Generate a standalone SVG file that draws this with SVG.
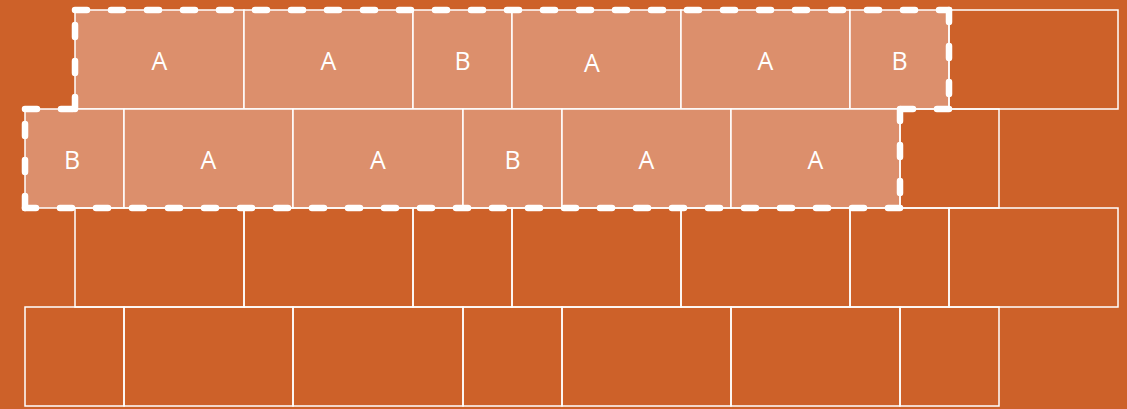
<svg xmlns="http://www.w3.org/2000/svg" width="1127" height="409" viewBox="0 0 1127 409">
<style>
.b{fill:none;stroke:#fff;stroke-width:1.5}
.h{fill:#DC8F6C;stroke:#fff;stroke-width:1.5}
.t{fill:#fff;font-family:"Open Sans","Noto Sans",sans-serif;font-size:25px;text-anchor:middle}
.d{fill:none;stroke:#fff;stroke-width:6.5;stroke-dasharray:12 24;stroke-linecap:round}
</style>
<rect width="1127" height="409" fill="#CD6129"/>
<g id="row1">
<rect class="h" x="75" y="10" width="169" height="99"/>
<rect class="h" x="244" y="10" width="169" height="99"/>
<rect class="h" x="413" y="10" width="99" height="99"/>
<rect class="h" x="512" y="10" width="169" height="99"/>
<rect class="h" x="681" y="10" width="169" height="99"/>
<rect class="h" x="850" y="10" width="99" height="99"/>
<rect class="b" x="949" y="10" width="169" height="99"/>
<text class="t" x="159.5" y="70">A</text>
<text class="t" x="328.5" y="70">A</text>
<text class="t" x="462.5" y="70">B</text>
<text class="t" x="592" y="71.5">A</text>
<text class="t" x="765.5" y="70">A</text>
<text class="t" x="899.5" y="70">B</text>
</g>
<g id="row2">
<rect class="h" x="25" y="109" width="99" height="99"/>
<rect class="h" x="124" y="109" width="169" height="99"/>
<rect class="h" x="293" y="109" width="170" height="99"/>
<rect class="h" x="463" y="109" width="99" height="99"/>
<rect class="h" x="562" y="109" width="169" height="99"/>
<rect class="h" x="731" y="109" width="169" height="99"/>
<rect class="b" x="900" y="109" width="99" height="99"/>
<text class="t" x="72" y="168.5">B</text>
<text class="t" x="208.5" y="168.5">A</text>
<text class="t" x="378" y="168.5">A</text>
<text class="t" x="512.5" y="168.5">B</text>
<text class="t" x="646.5" y="168.5">A</text>
<text class="t" x="815.5" y="168.5">A</text>
</g>
<g id="row3">
<rect class="b" x="75" y="208" width="169" height="99"/>
<rect class="b" x="244" y="208" width="169" height="99"/>
<rect class="b" x="413" y="208" width="99" height="99"/>
<rect class="b" x="512" y="208" width="169" height="99"/>
<rect class="b" x="681" y="208" width="169" height="99"/>
<rect class="b" x="850" y="208" width="99" height="99"/>
<rect class="b" x="949" y="208" width="169" height="99"/>
</g>
<g id="row4">
<rect class="b" x="25" y="307" width="99" height="99"/>
<rect class="b" x="124" y="307" width="169" height="99"/>
<rect class="b" x="293" y="307" width="170" height="99"/>
<rect class="b" x="463" y="307" width="99" height="99"/>
<rect class="b" x="562" y="307" width="169" height="99"/>
<rect class="b" x="731" y="307" width="169" height="99"/>
<rect class="b" x="900" y="307" width="99" height="99"/>
</g>
<g id="connectors">
<path class="d" d="M75,10 H949"/>
<path class="d" d="M949,10 V109"/>
<path class="d" d="M949,109 H900"/>
<path class="d" d="M900,109 V208"/>
<path class="d" d="M900,208 H25"/>
<path class="d" d="M25,208 V109"/>
<path class="d" d="M25,109 H75"/>
<path class="d" d="M75,109 V10"/>
</g>
</svg>
